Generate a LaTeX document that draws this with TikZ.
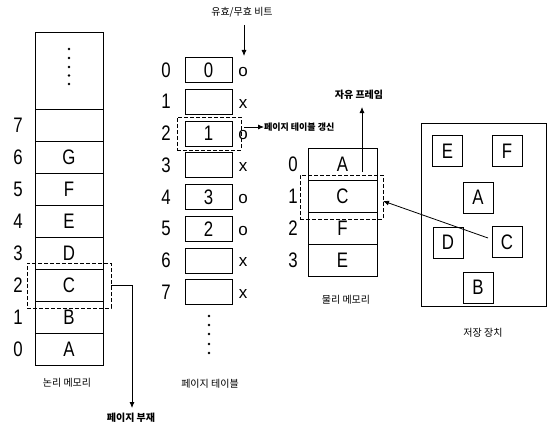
\documentclass[tikz,border=0pt]{standalone}
\usepackage{fontspec}
\setmainfont{Liberation Sans}
\newfontfamily\cond[FakeStretch=0.8]{Liberation Sans}
\newfontfamily\kr{Noto Sans CJK KR}
\usetikzlibrary{arrows.meta}
\begin{document}
\begin{tikzpicture}[x=1pt,y=-1pt,
  every node/.style={inner sep=0pt, outer sep=0pt},
  big/.style={font=\cond\fontsize{21}{21}\selectfont},
  cellL/.style={draw, line width=0.8pt, minimum width=68pt, minimum height=31.9pt, big},
  cellP/.style={draw, line width=0.8pt, minimum width=69pt, minimum height=32pt, big},
  cellT/.style={draw, line width=0.8pt, minimum width=47pt, minimum height=25pt, big},
  cellS/.style={draw, line width=0.8pt, minimum width=30pt, minimum height=31pt, big},
  idx/.style={big},
  bit/.style={font=\fontsize{17}{17}\selectfont},
  capt/.style={font=\kr\fontsize{10}{10}\selectfont},
  bcapt/.style={font=\kr\bfseries\fontsize{10}{10}\selectfont},
  dbox/.style={draw, line width=0.9pt, dash pattern=on 4pt off 2pt},
  arr/.style={line width=0.8pt, -{Latex[length=6pt,width=5pt]}},
  dot/.style={circle, fill, minimum size=2.6pt}
]
\useasboundingbox (0,0) rectangle (551,428);

% ---------- logical memory ----------
\node[cellL, minimum height=77.75pt] (ltop) at (69,70.875) {};
\foreach \y [count=\i] in {49,58,67,75.5,84} {\node[dot] (ld\i) at (69,\y) {};}
\foreach \n/\l in {0/A,1/B,2/C,3/D,4/E,5/F,6/G,7/{}} {
  \node[cellL] (l\n) at (69,{365-31.9*(\n+0.5)}) {\l};
  \node[idx] (li\n) at (18,{365-31.9*(\n+0.5)}) {\n};
}
\node[capt] (lcap) at (67,383) {논리 메모리};
\node[dbox, minimum width=84pt, minimum height=45pt] (ldash) at (69,285.5) {};
\coordinate (lturn) at (132,285.5);
\node[bcapt] (pfault) at (131,418) {페이지 부재};
\draw[arr] (ldash.east) -- (lturn) -- (132,408);

% ---------- page table ----------
\foreach \n/\v/\b in {0/0/o,1/{}/x,2/1/o,3/{}/x,4/3/o,5/2/o,6/{}/x,7/{}/x} {
  \node[cellT] (t\n) at (208.5,{70+31.75*\n}) {\v};
  \node[idx] (ti\n) at (166,{70+31.75*\n}) {\n};
  \node[bit] (tb\n) at (243,{72+31.75*\n}) {\b};
}
\foreach \y [count=\i] in {316,325,334,344,353} {\node[dot] (td\i) at (209,\y) {};}
\node[capt] (tcap) at (210,384) {페이지 테이블};
\node[dbox, minimum width=64pt, minimum height=33pt] (tdash) at (209,133.5) {};
\node[capt] (vbit) at (242,12) {유효/무효 비트};
\coordinate (vtop) at (244,25);
\draw[arr] (vtop) -- (244,56);
\node[bcapt, anchor=west, font=\kr\bfseries\fontsize{9}{9}\selectfont] (tupd) at (264,127) {페이지 테이블 갱신};
\coordinate (ustart) at (244,127);
\draw[arr] (ustart) -- (tupd.west);

% ---------- physical memory ----------
\foreach \n/\l in {0/A,1/C,2/F,3/E} {
  \node[cellP] (p\n) at (342.5,{164+32.2*\n}) {\l};
  \node[idx] (pi\n) at (293,{164+32.2*\n}) {\n};
}
\node[capt] (pcap) at (346,300) {물리 메모리};
\node[dbox, minimum width=83pt, minimum height=44pt] (pdash) at (341.5,197) {};
\node[bcapt] (free) at (359,95) {자유 프레임};
\coordinate (fstart) at (362,172);
\draw[arr] (fstart) -- (362,107);

% ---------- storage ----------
\node[draw, line width=0.8pt, minimum width=125pt, minimum height=183pt] (store) at (483.5,214.5) {};
\node[cellS] (sE) at (447.5,151) {E};
\node[cellS] (sF) at (507,151) {F};
\node[cellS] (sA) at (478,197.5) {A};
\node[cellS] (sD) at (448,242.5) {D};
\node[cellS] (sC) at (507,242) {C};
\node[cellS] (sB) at (478,287.5) {B};
\node[capt] (scap) at (483,333) {저장 장치};
\coordinate (cstart) at (488,238);
\draw[arr] (cstart) -- ([yshift=-4pt]pdash.east);
\end{tikzpicture}
\end{document}
